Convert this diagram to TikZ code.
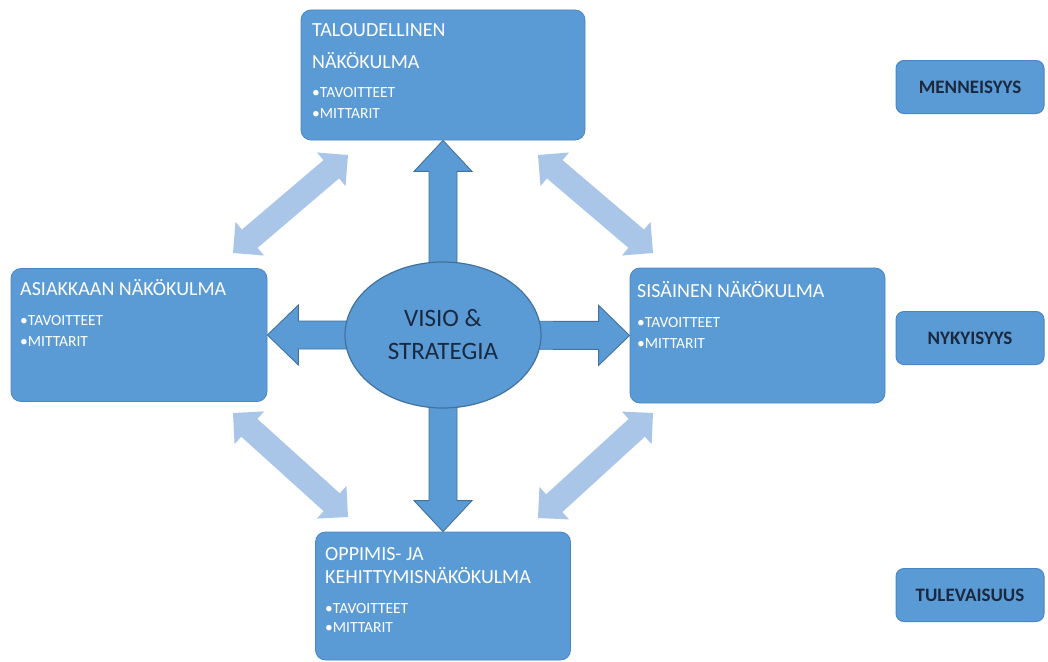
\documentclass[tikz,border=0pt]{standalone}
\usepackage{fontspec}
\setmainfont{Carlito}
\usetikzlibrary{calc,shapes.geometric}

\definecolor{bluefill}{HTML}{5B9BD5}
\definecolor{blueedge}{HTML}{4A86C6}
\definecolor{darkedge}{HTML}{41719C}
\definecolor{lightarrow}{HTML}{A9C5E7}
\definecolor{navytext}{HTML}{1A2940}

% straight block arrow: style, from, to, half shaft, half head, head length
\newcommand\blkarr[6]{%
  \coordinate (ba) at ($(#3)!#6!(#2)$);
  \path[#1] ($(#2)!#4!90:(#3)$) -- ($(ba)!#4!90:(#3)$) -- ($(ba)!#5!90:(#3)$)
    -- (#3) -- ($(ba)!#5!-90:(#3)$) -- ($(ba)!#4!-90:(#3)$)
    -- ($(#2)!#4!-90:(#3)$) -- cycle;}

% block arrow with a head at each end
\newcommand\dblarr[6]{%
  \coordinate (da1) at ($(#2)!#6!(#3)$);
  \coordinate (da2) at ($(#3)!#6!(#2)$);
  \path[#1] (#2) -- ($(da1)!#5!90:(#3)$) -- ($(da1)!#4!90:(#3)$)
    -- ($(da2)!#4!90:(#3)$) -- ($(da2)!#5!90:(#3)$) -- (#3)
    -- ($(da2)!#5!-90:(#3)$) -- ($(da2)!#4!-90:(#3)$)
    -- ($(da1)!#4!-90:(#3)$) -- ($(da1)!#5!-90:(#3)$) -- cycle;}

\tikzset{
  view/.style={rectangle, rounded corners=10pt, fill=bluefill, draw=blueedge,
    line width=0.8pt, inner sep=0pt},
  period/.style={rectangle, rounded corners=8pt, fill=bluefill, draw=blueedge,
    line width=1pt, minimum width=148pt, minimum height=53pt, inner sep=0pt,
    text=navytext, font=\fontsize{19}{22}\selectfont\bfseries},
  head/.style={anchor=base west, inner sep=0pt, text=white,
    font=\fontsize{20}{24}\selectfont},
  item/.style={anchor=base west, inner sep=0pt, text=white,
    font=\fontsize{15.5}{18}\selectfont},
  mainarrow/.style={fill=bluefill, draw=darkedge, line width=0.9pt},
  softarrow/.style={fill=lightarrow},
}

\begin{document}
\begin{tikzpicture}[x=1pt, y=-1pt]
\useasboundingbox[fill=white] (0,0) rectangle (1048,661);

% perspective boxes
\node[view, minimum width=284pt, minimum height=130pt] (fin)  at (443,75) {};
\node[view, minimum width=256pt, minimum height=133pt] (cust) at (139,335) {};
\node[view, minimum width=255pt, minimum height=135pt] (int)  at (757.5,335.5) {};
\node[view, minimum width=255pt, minimum height=128pt] (dev)  at (443,596) {};

% centre of the vision ellipse
\coordinate (vc) at (443,335);

% arrows from the vision to each perspective
\blkarr{mainarrow}{vc}{fin.south}{14pt}{29pt}{31pt}
\blkarr{mainarrow}{vc}{dev.north}{14pt}{29pt}{31pt}
\blkarr{mainarrow}{vc}{int.west}{14pt}{30pt}{31pt}
\blkarr{mainarrow}{vc}{cust.east}{14pt}{30pt}{31pt}

\node[ellipse, fill=bluefill, draw=darkedge, line width=1.2pt,
  minimum width=196pt, minimum height=146pt, inner sep=0pt,
  text=navytext, align=center, font=\fontsize{25}{33}\selectfont]
  (vis) at (vc) {VISIO \&\\STRATEGIA};

% light two-way arrows between neighbouring perspectives
\coordinate (tl1) at (233,253); \coordinate (tl2) at (348,155);
\coordinate (tr1) at (538,155); \coordinate (tr2) at (653,253);
\coordinate (bl1) at (233,413); \coordinate (bl2) at (348,517);
\coordinate (br1) at (653,413); \coordinate (br2) at (538,518);
\dblarr{softarrow}{tl1}{tl2}{12pt}{22pt}{22pt}
\dblarr{softarrow}{tr1}{tr2}{12pt}{22pt}{22pt}
\dblarr{softarrow}{bl1}{bl2}{12pt}{22pt}{22pt}
\dblarr{softarrow}{br1}{br2}{12pt}{22pt}{22pt}

% box texts
\node[head] (finh1) at (312,37) {TALOUDELLINEN};
\node[head] (finh2) at (312,68) {NÄKÖKULMA};
\node[item] (fini1) at (312,97) {•TAVOITTEET};
\node[item] (fini2) at (312,118) {•MITTARIT};

\node[head] (custh) at (20,295) {ASIAKKAAN NÄKÖKULMA};
\node[item] (custi1) at (20,325) {•TAVOITTEET};
\node[item] (custi2) at (20,346) {•MITTARIT};

\node[head] (inth) at (637,297) {SISÄINEN NÄKÖKULMA};
\node[item] (inti1) at (637,327) {•TAVOITTEET};
\node[item] (inti2) at (637,348) {•MITTARIT};

\node[head] (devh1) at (325,560) {OPPIMIS- JA};
\node[head] (devh2) at (325,583) {KEHITTYMISNÄKÖKULMA};
\node[item] (devi1) at (325,613) {•TAVOITTEET};
\node[item] (devi2) at (325,632) {•MITTARIT};

% time labels
\node[period] (past)    at (970,87)  {MENNEISYYS};
\node[period] (present) at (970,338) {NYKYISYYS};
\node[period] (future)  at (970,595) {TULEVAISUUS};
\end{tikzpicture}
\end{document}
